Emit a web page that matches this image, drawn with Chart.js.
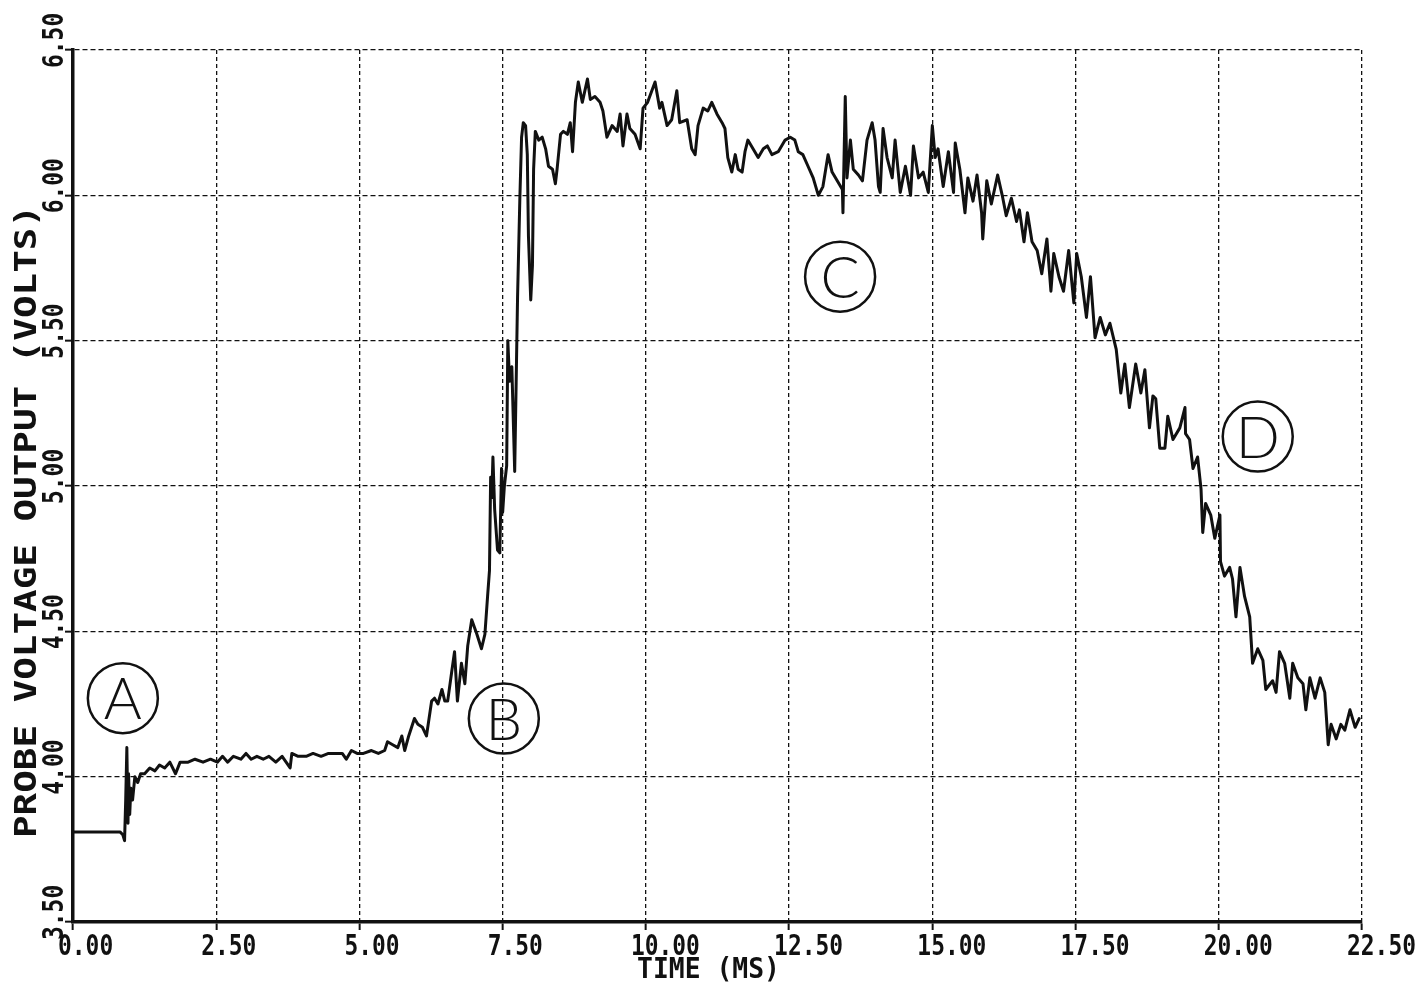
<!DOCTYPE html>
<html>
<head>
<meta charset="utf-8">
<title>Probe voltage output</title>
<script src="https://cdn.jsdelivr.net/npm/chart.js@4.4.1/dist/chart.umd.min.js"></script>
<style>
  html, body { margin: 0; padding: 0; background: #fff; }
  #wrap { width: 1428px; height: 988px; }
</style>
</head>
<body>
<div id="wrap"><canvas id="probe" width="1428" height="988"></canvas></div>
<script>
// Probe trace, [time (ms), volts] pairs, one array per phase of the event.
const baselineTrace = [
  [0.00, 3.81], [0.82, 3.81], [0.87, 3.80], [0.90, 3.78], [0.92, 3.92], [0.94, 4.10],
  [0.96, 3.84], [0.97, 4.01], [0.99, 3.87], [1.01, 3.96], [1.04, 3.92], [1.08, 4.00],
  [1.13, 3.98], [1.18, 4.01], [1.25, 4.01], [1.34, 4.03], [1.43, 4.02], [1.51, 4.04],
  [1.60, 4.03], [1.69, 4.05], [1.79, 4.01], [1.87, 4.05], [2.01, 4.05], [2.13, 4.06],
  [2.27, 4.05], [2.40, 4.06], [2.52, 4.05], [2.61, 4.07], [2.70, 4.05], [2.80, 4.07],
  [2.93, 4.06], [3.02, 4.08], [3.11, 4.06], [3.21, 4.07], [3.32, 4.06], [3.42, 4.07],
  [3.54, 4.05], [3.65, 4.07], [3.79, 4.03], [3.82, 4.08], [3.93, 4.07], [4.07, 4.07],
  [4.19, 4.08], [4.33, 4.07], [4.46, 4.08], [4.58, 4.08], [4.70, 4.08], [4.77, 4.06],
  [4.86, 4.09], [4.96, 4.08], [5.07, 4.08], [5.21, 4.09], [5.33, 4.08]
];

const riseTrace = [
  [5.44, 4.09], [5.49, 4.12], [5.58, 4.11], [5.67, 4.10], [5.74, 4.14], [5.79, 4.09],
  [5.86, 4.14], [5.91, 4.17], [5.96, 4.20], [6.02, 4.18], [6.10, 4.17], [6.17, 4.14],
  [6.26, 4.26], [6.31, 4.27], [6.37, 4.25], [6.44, 4.30], [6.49, 4.26], [6.54, 4.26],
  [6.61, 4.36], [6.66, 4.43], [6.71, 4.26], [6.78, 4.39], [6.84, 4.32], [6.89, 4.45],
  [6.96, 4.54], [7.05, 4.49], [7.13, 4.44], [7.19, 4.49], [7.24, 4.63], [7.27, 4.71],
  [7.29, 5.03], [7.31, 4.96], [7.33, 5.10], [7.36, 4.92], [7.41, 4.78], [7.45, 4.77],
  [7.48, 5.06], [7.50, 4.91], [7.53, 5.00], [7.57, 5.07], [7.59, 5.50], [7.62, 5.36],
  [7.66, 5.41], [7.71, 5.05], [7.76, 5.65], [7.80, 5.99], [7.83, 6.20], [7.86, 6.25],
  [7.90, 6.24], [7.93, 6.14], [7.95, 5.86], [7.99, 5.64], [8.00, 5.68], [8.02, 5.76],
  [8.04, 6.09]
];

const plateauTrace = [
  [8.07, 6.22], [8.13, 6.19], [8.19, 6.20], [8.25, 6.16], [8.30, 6.10], [8.37, 6.09],
  [8.42, 6.04], [8.45, 6.09], [8.51, 6.21], [8.56, 6.22], [8.63, 6.21], [8.68, 6.25],
  [8.72, 6.15], [8.77, 6.32], [8.82, 6.39], [8.89, 6.32], [8.98, 6.40], [9.03, 6.33],
  [9.11, 6.34], [9.20, 6.32], [9.25, 6.29], [9.32, 6.20], [9.41, 6.24], [9.50, 6.22],
  [9.55, 6.28], [9.60, 6.17], [9.67, 6.28], [9.72, 6.23], [9.81, 6.21], [9.90, 6.16],
  [9.95, 6.30], [10.03, 6.32], [10.16, 6.39], [10.24, 6.30], [10.28, 6.32], [10.37, 6.24],
  [10.45, 6.26], [10.54, 6.36], [10.59, 6.25], [10.72, 6.26], [10.80, 6.16], [10.86, 6.14],
  [10.91, 6.24], [11.00, 6.30], [11.08, 6.29], [11.15, 6.32], [11.24, 6.28], [11.33, 6.25],
  [11.38, 6.23], [11.43, 6.13], [11.50, 6.08], [11.56, 6.14], [11.61, 6.09], [11.68, 6.08],
  [11.73, 6.15], [11.78, 6.19], [11.87, 6.16], [11.96, 6.13], [12.05, 6.16], [12.12, 6.17],
  [12.20, 6.14], [12.31, 6.15], [12.43, 6.19], [12.52, 6.20], [12.60, 6.19], [12.66, 6.15],
  [12.74, 6.14], [12.83, 6.10], [12.92, 6.06], [13.01, 6.00], [13.09, 6.03], [13.18, 6.14],
  [13.25, 6.08], [13.34, 6.05], [13.43, 6.02], [13.44, 5.94], [13.48, 6.34], [13.51, 6.06],
  [13.57, 6.19], [13.62, 6.09], [13.71, 6.07], [13.78, 6.05], [13.86, 6.19], [13.95, 6.25],
  [14.00, 6.19], [14.06, 6.03], [14.09, 6.01], [14.14, 6.23], [14.21, 6.13], [14.30, 6.06],
  [14.35, 6.19], [14.44, 6.01], [14.53, 6.10], [14.62, 6.00], [14.67, 6.17], [14.76, 6.06],
  [14.84, 6.08], [14.93, 6.01], [15.00, 6.24], [15.05, 6.13], [15.10, 6.16], [15.19, 6.03],
  [15.28, 6.15], [15.37, 6.01]
];

const decayTrace = [
  [15.40, 6.18], [15.48, 6.09], [15.57, 5.94], [15.62, 6.06], [15.71, 5.98], [15.78, 6.07],
  [15.86, 5.94], [15.88, 5.85], [15.95, 6.05], [16.03, 5.97], [16.14, 6.07], [16.22, 6.00],
  [16.29, 5.93], [16.38, 5.99], [16.47, 5.91], [16.52, 5.95], [16.60, 5.84], [16.66, 5.94],
  [16.74, 5.84], [16.83, 5.81], [16.91, 5.73], [17.00, 5.85], [17.07, 5.67], [17.12, 5.80],
  [17.21, 5.72], [17.29, 5.67], [17.38, 5.81], [17.47, 5.63], [17.52, 5.80], [17.60, 5.72],
  [17.69, 5.58], [17.76, 5.72], [17.84, 5.51], [17.93, 5.58], [18.02, 5.52], [18.10, 5.56],
  [18.21, 5.47], [18.29, 5.32], [18.36, 5.42], [18.44, 5.27], [18.55, 5.42], [18.64, 5.32],
  [18.71, 5.40], [18.79, 5.20], [18.85, 5.31], [18.90, 5.30], [18.97, 5.13], [19.06, 5.13],
  [19.11, 5.24], [19.20, 5.16], [19.32, 5.20], [19.41, 5.27], [19.42, 5.18], [19.49, 5.16],
  [19.55, 5.06], [19.63, 5.10], [19.69, 4.99], [19.72, 4.84], [19.77, 4.94], [19.86, 4.90],
  [19.93, 4.82], [20.02, 4.90], [20.03, 4.74], [20.10, 4.69], [20.19, 4.72], [20.24, 4.68],
  [20.30, 4.55], [20.37, 4.72], [20.45, 4.62], [20.54, 4.55], [20.59, 4.39], [20.68, 4.44],
  [20.77, 4.40], [20.82, 4.30], [20.94, 4.33], [21.00, 4.29], [21.06, 4.43], [21.15, 4.39],
  [21.24, 4.27], [21.29, 4.39], [21.38, 4.34], [21.47, 4.32], [21.52, 4.23], [21.59, 4.34],
  [21.68, 4.27], [21.77, 4.34], [21.85, 4.29], [21.91, 4.11], [21.96, 4.18], [22.05, 4.13],
  [22.13, 4.18], [22.20, 4.16], [22.29, 4.23], [22.38, 4.17], [22.45, 4.20]
];

// Axis ticks and labels
const xTickLabels = ['0.00', '2.50', '5.00', '7.50', '10.00', '12.50', '15.00', '17.50', '20.00', '22.50'];
const yTickLabels = ['3.50', '4.00', '4.50', '5.00', '5.50', '6.00', '6.50'];
const xTitle = 'TIME (MS)';
const yTitle = 'PROBE VOLTAGE OUTPUT (VOLTS)';

// Circled phase markers
const markerNames = ['A', 'B', 'C', 'D'];
const markerTimes = [0.87, 7.52, 13.39, 20.68];
const markerVolts = [4.27, 4.20, 5.72, 5.17];

const trace = [...baselineTrace, ...riseTrace, ...plateauTrace, ...decayTrace]
  .map(([x, y]) => ({ x, y }));

const INK = '#111';
const TICK_FONT = "bold 29px 'DejaVu Sans Mono', 'Liberation Mono', monospace";
const TITLE_FONT = "bold 31px 'DejaVu Sans Mono', 'Liberation Mono', monospace";

// draw text squeezed/stretched horizontally to a given width
function fitText(ctx, text, width) {
  const w = ctx.measureText(text).width;
  ctx.scale(width / w, 1);
  ctx.fillText(text, 0, 0);
}

const plotterLabels = {
  id: 'plotterLabels',
  afterDraw(chart) {
    const { ctx, chartArea, scales: { x, y } } = chart;
    ctx.save();
    ctx.fillStyle = INK;
    ctx.textAlign = 'left';
    ctx.textBaseline = 'alphabetic';
    ctx.font = TICK_FONT;

    // x tick labels start just left of their tick
    x.ticks.forEach((t, i) => {
      const px = x.getPixelForValue(t.value);
      ctx.save();
      ctx.translate(px - 15, chartArea.bottom + 33);
      ctx.scale(0.79, 1);
      ctx.fillText(xTickLabels[i], 0, 0);
      ctx.restore();
    });

    // y tick labels run bottom-to-top
    y.ticks.forEach((t, i) => {
      const py = y.getPixelForValue(t.value);
      ctx.save();
      ctx.translate(chartArea.left - 10, py + 18);
      ctx.rotate(-Math.PI / 2);
      ctx.scale(0.79, 1);
      ctx.fillText(yTickLabels[i], 0, 0);
      ctx.restore();
    });

    // axis titles
    ctx.save();
    ctx.translate(637, 978);
    ctx.font = "bold 28px 'DejaVu Sans Mono', 'Liberation Mono', monospace";
    fitText(ctx, xTitle, 143);
    ctx.restore();

    ctx.save();
    ctx.font = TITLE_FONT;
    ctx.translate(36, 838);
    ctx.rotate(-Math.PI / 2);
    fitText(ctx, yTitle, 633);
    ctx.restore();

    // circled markers
    ctx.lineWidth = 2.5;
    ctx.strokeStyle = INK;
    ctx.textAlign = 'center';
    ctx.font = "300 58px Lato, 'Open Sans', sans-serif";
    markerNames.forEach((name, i) => {
      const cx = x.getPixelForValue(markerTimes[i]);
      const cy = y.getPixelForValue(markerVolts[i]);
      ctx.beginPath();
      ctx.arc(cx, cy, 35, 0, Math.PI * 2);
      ctx.stroke();
      ctx.fillText(name, cx, cy + 21);
    });
    ctx.restore();
  }
};

new Chart(document.getElementById('probe'), {
  type: 'line',
  data: {
    datasets: [{
      data: trace,
      borderColor: INK,
      borderWidth: 3,
      borderJoinStyle: 'round',
      borderCapStyle: 'round',
      pointRadius: 0,
      fill: false,
      tension: 0
    }]
  },
  options: {
    responsive: false,
    devicePixelRatio: 1,
    animation: false,
    layout: { padding: { left: 65, right: 66, top: 50, bottom: 58 } },
    plugins: {
      legend: { display: false },
      tooltip: { enabled: false }
    },
    scales: {
      x: {
        type: 'linear',
        min: 0,
        max: 22.5,
        ticks: { stepSize: 2.5, display: false },
        grid: { color: INK, lineWidth: 1.3, tickLength: 8, tickColor: INK, tickWidth: 2 },
        border: { display: true, color: INK, width: 3.5, dash: [4, 3] }
      },
      y: {
        type: 'linear',
        min: 3.5,
        max: 6.5,
        ticks: { stepSize: 0.5, display: false },
        grid: { color: INK, lineWidth: 1.3, tickLength: 8, tickColor: INK, tickWidth: 2 },
        border: { display: true, color: INK, width: 3.5, dash: [5, 3] }
      }
    }
  },
  plugins: [plotterLabels]
});
</script>
</body>
</html>
